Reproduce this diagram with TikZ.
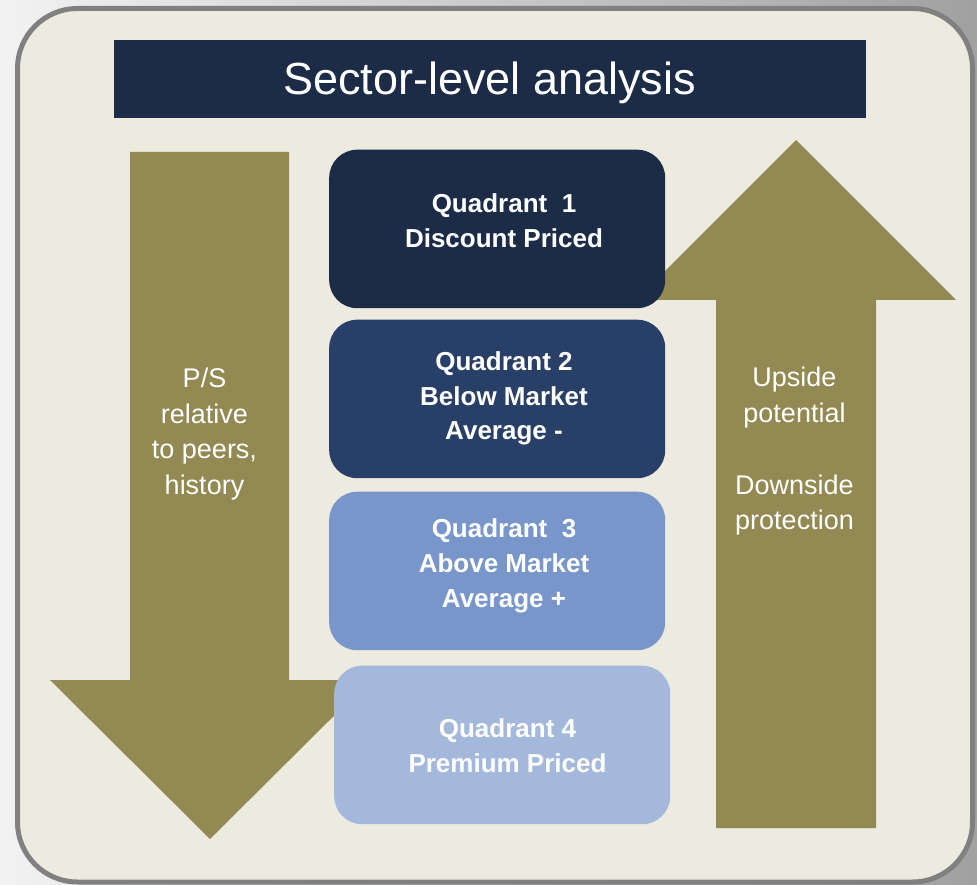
\documentclass[tikz,border=0pt]{standalone}
\usepackage{fontspec}
\setmainfont{Liberation Sans}
\definecolor{navy}{HTML}{1C2C47}
\definecolor{qtwo}{HTML}{283F67}
\definecolor{qthree}{HTML}{7896CA}
\definecolor{qfour}{HTML}{A4B8DB}
\definecolor{olive}{HTML}{938952}
\definecolor{paper}{HTML}{EDEBE0}
\definecolor{rim}{HTML}{808080}
\begin{document}
\begin{tikzpicture}[x=1pt,y=-1pt,
  qbox/.style={draw=none, rounded corners=28pt, minimum width=336pt, minimum height=158.5pt, anchor=north west, inner sep=0pt},
  qtext/.style={text=white, font=\bfseries\fontsize{26}{35}\selectfont, inner sep=0pt, anchor=base},
  sidetext/.style={text=white, font=\fontsize{27}{35.8}\selectfont, inner sep=0pt, anchor=base},
  arrowfill/.style={fill=olive}]
\useasboundingbox (0,0) rectangle (977,885);
% outer background
\shade[left color=black!5, right color=black!37] (0,0) rectangle (977,885);
% frame
\draw[rim, line width=5pt, fill=paper, rounded corners=60pt] (17.5,8.5) rectangle (972.5,882);
% title bar
\node[fill=navy, minimum width=752pt, minimum height=78pt, anchor=north west, inner sep=0pt] (bar) at (114,40) {};
\node[text=white, font=\fontsize{45}{54}\selectfont, inner sep=0pt, anchor=base] (title) at (489.5,95) {Sector-level analysis};
% down arrow
\fill[arrowfill] (130,152) -- (289,152) -- (289,680) -- (370,680) -- (210,839) -- (50,680) -- (130,680) -- cycle;
% up arrow
\fill[arrowfill] (716,828) -- (876,828) -- (876,300) -- (956,300) -- (796,140) -- (636,300) -- (716,300) -- cycle;
% quadrant boxes
\node[qbox, fill=navy] (q1) at (329,149.5) {};
\node[qbox, fill=qtwo] (q2) at (329,319.5) {};
\node[qbox, fill=qthree] (q3) at (329,491.5) {};
\node[qbox, fill=qfour] (q4) at (334,665.5) {};
% quadrant texts
\node[qtext] (t1) at (504,213) {\begin{tabular}[t]{@{}c@{}}Quadrant\ \ 1\\Discount Priced\end{tabular}};
\node[qtext] (t2) at (504,370) {\begin{tabular}[t]{@{}c@{}}Quadrant 2\\Below Market\\Average -\end{tabular}};
\node[qtext] (t3) at (504,537) {\begin{tabular}[t]{@{}c@{}}Quadrant\ \ 3\\Above Market\\Average +\end{tabular}};
\node[qtext] (t4) at (507.5,737) {\begin{tabular}[t]{@{}c@{}}Quadrant 4\\Premium Priced\end{tabular}};
% side labels
\node[sidetext] (left) at (204.5,387.3) {\begin{tabular}[t]{@{}c@{}}P/S\\relative\\to peers,\\history\end{tabular}};
\node[sidetext] (right) at (794.5,386.7) {\begin{tabular}[t]{@{}c@{}}Upside\\potential\\ \\Downside\\protection\end{tabular}};
\end{tikzpicture}
\end{document}
